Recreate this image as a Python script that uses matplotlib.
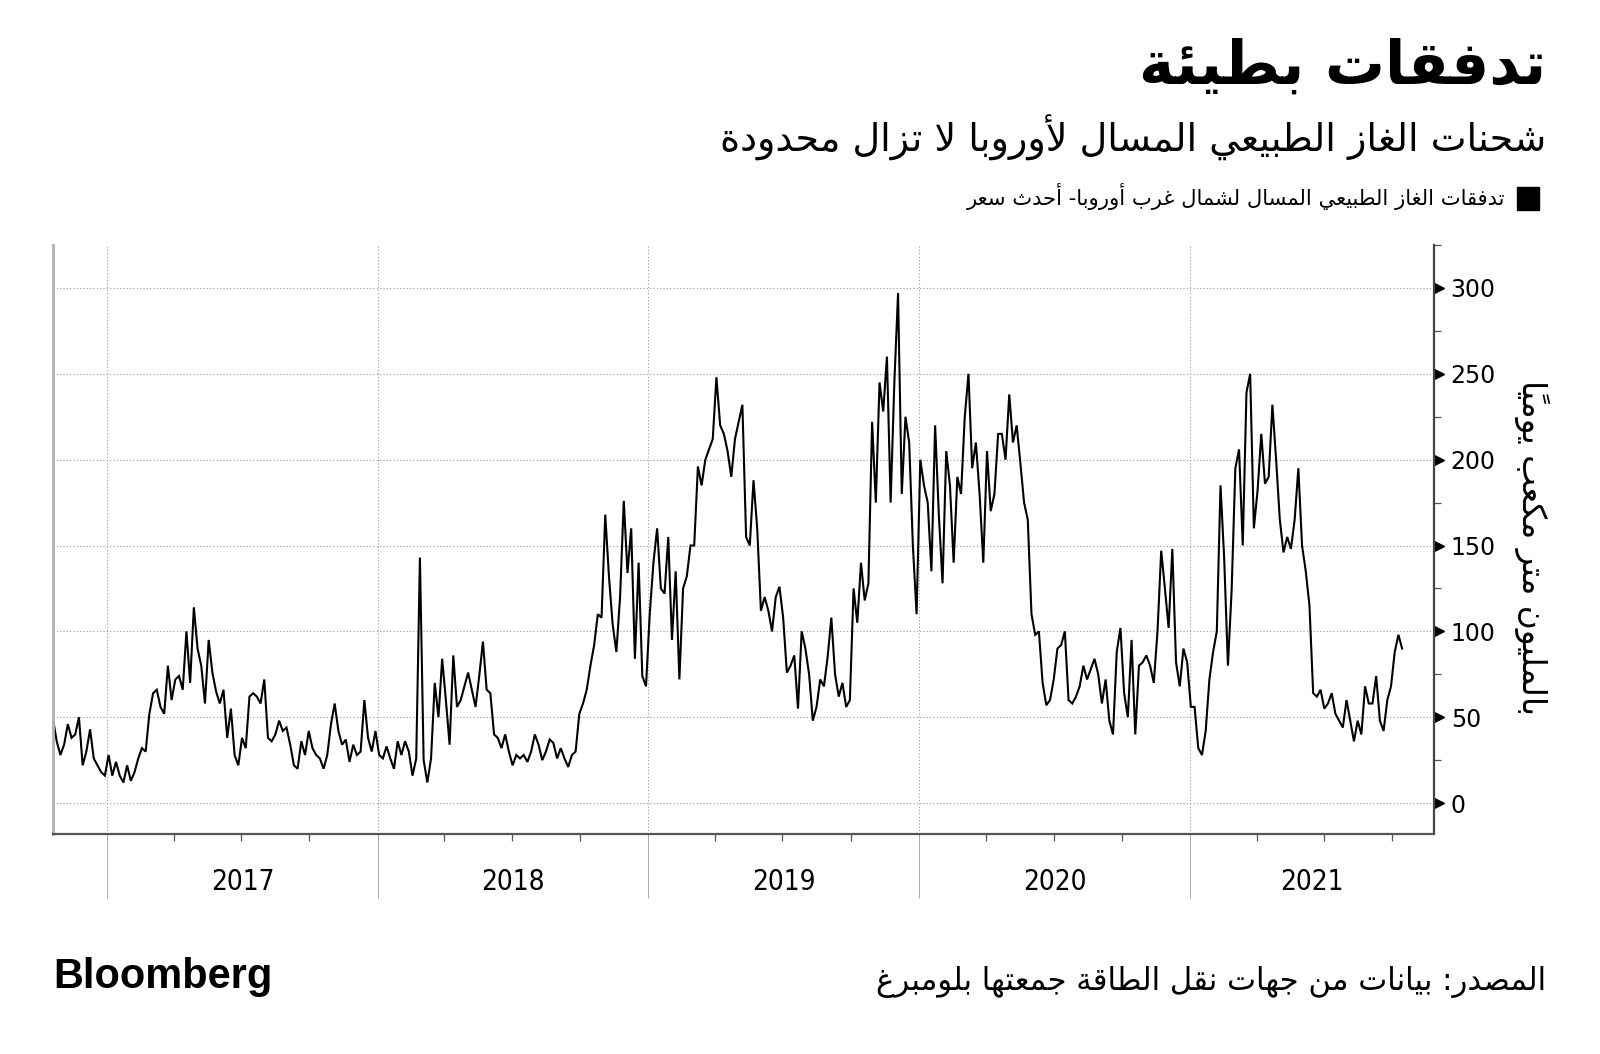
import numpy as np
import matplotlib
matplotlib.use('Agg')
import matplotlib.pyplot as plt
import matplotlib.dates as mdates
import matplotlib.transforms as mtransforms
from matplotlib import font_manager
from matplotlib.patches import Rectangle

# LNG flows to north-west Europe, million cubic metres per day, one value every 5 days
start = np.datetime64('2016-10-20')
step_days = 5
flow = [
    49, 36, 28, 34, 46, 38, 40, 50, 22, 30,
    43, 26, 22, 18, 16, 28, 16, 24, 16, 12,
    22, 13, 18, 26, 32, 30, 52, 64, 66, 56,
    52, 80, 60, 72, 74, 66, 100, 70, 114, 90,
    80, 58, 95,
    76, 65, 58, 66, 38, 55, 28, 22, 38, 32,
    62, 64, 62, 58, 72, 38, 36, 40, 48, 42,
    44, 34, 22, 20, 36, 28, 42, 32, 28, 26,
    20, 28, 46, 58, 42, 34, 37, 24, 34, 28, 30, 60,
    38, 30, 42, 28, 26, 33, 26, 20, 36, 28,
    36, 30, 16, 26, 143, 25, 12, 26, 70, 50,
    84, 60, 34, 86, 56, 60, 68, 76, 66, 56,
    74, 94, 66, 64, 40, 38, 32, 40, 30, 22, 28,
    26, 28, 24, 30, 40, 34, 25, 30, 37, 35,
    26, 32, 26, 21, 28, 30, 52, 58, 66, 80,
    92, 110, 108, 168, 132, 104, 88, 120, 176, 134,
    160, 84, 140, 74, 68, 110, 140, 160, 125, 122,
    155, 95, 135,
    72, 125, 132, 150, 150, 196, 185, 200, 206, 212,
    248, 220, 215, 205, 190, 212, 222, 232, 155, 150,
    188, 160, 112, 120, 112, 100, 120, 126, 108, 76,
    80, 86, 55, 100, 90, 75, 48, 56, 72, 68,
    85,
    108, 75, 62, 70, 56, 60, 125, 105, 140, 118,
    128, 222, 175, 245, 228, 260, 175, 245, 297, 180,
    225, 210, 150, 110, 200, 185, 175, 135, 220, 168,
    128, 205, 185, 140, 190, 180, 225, 250, 195, 210, 180, 140,
    205, 170, 180, 215, 215, 200, 238, 210, 220, 198,
    175, 165, 110, 98, 100, 70, 57, 60, 72, 90,
    92, 100, 60, 58, 62, 68, 80, 72, 78, 84,
    75, 58, 72, 48, 40, 88, 102, 64, 50, 95,
    40, 80,
    82, 86, 80, 70, 100, 147, 125, 102, 148, 82,
    68, 90, 82, 56, 56, 32, 28, 42, 72, 88,
    100, 185, 142, 80, 124, 195, 206, 150, 239, 250,
    160, 182, 215, 186, 190, 232, 200, 165, 146, 155,
    148,
    165, 195, 150, 135, 115, 64, 62, 66, 55, 58,
    64, 52, 48, 44, 60, 48, 36, 48, 40, 68,
    58, 58, 74, 48, 42, 60, 68, 88, 98, 90,
]
dates = start + np.arange(len(flow)) * np.timedelta64(step_days, 'D')

years = [2017, 2018, 2019, 2020, 2021]
yticks = [0, 50, 100, 150, 200, 250, 300]
x_end = np.datetime64('2021-11-26')

title = 'تدفقات بطيئة'
subtitle = 'شحنات الغاز الطبيعي المسال لأوروبا لا تزال محدودة'
legend_label = 'تدفقات الغاز الطبيعي المسال لشمال غرب أوروبا- أحدث سعر'
y_label = 'بالمليون متر مكعب يومياً'
source = 'المصدر: بيانات من جهات نقل الطاقة جمعتها بلومبرغ'


def ar(text):
    # minimal Arabic shaping: contextual forms + reverse for left-to-right drawing
    cps = list(range(0x621, 0x63B)) + list(range(0x641, 0x64B))
    nf = [1, 2, 2, 2, 2, 4, 2, 4, 2, 4, 4, 4, 4, 4, 2, 2, 2, 2, 4, 4,
          4, 4, 4, 4, 4, 4, 4, 4, 4, 4, 4, 4, 4, 2, 2, 4]
    forms = {}
    base = 0xFE80
    for cp, n in zip(cps, nf):
        f = [base + k for k in range(n)]
        base += n
        if n == 1:
            f = f * 4
        elif n == 2:
            f = f + f
        forms[chr(cp)] = (f, n)
    lamalef = {'\u0622': 0xFEF5, '\u0623': 0xFEF7, '\u0625': 0xFEF9, '\u0627': 0xFEFB}
    marks = set(chr(c) for c in range(0x64B, 0x653))
    clusters = []
    for ch in text:
        if ch in marks and clusters:
            clusters[-1][1].append(ch)
        else:
            clusters.append([ch, []])
    merged = []
    i = 0
    while i < len(clusters):
        c = clusters[i]
        if c[0] == '\u0644' and i + 1 < len(clusters) and clusters[i + 1][0] in lamalef:
            merged.append(['LA' + clusters[i + 1][0], c[1] + clusters[i + 1][1]])
            i += 2
        else:
            merged.append(c)
            i += 1

    def joins_next(b):
        if b.startswith('LA'):
            return False
        return b in forms and forms[b][1] == 4

    def joins_prev(b):
        if b.startswith('LA'):
            return True
        return b in forms and forms[b][1] >= 2

    out = []
    for k, (b, mk) in enumerate(merged):
        prev = merged[k - 1][0] if k > 0 else None
        nxt = merged[k + 1][0] if k + 1 < len(merged) else None
        jp = prev is not None and joins_next(prev) and joins_prev(b)
        jn = nxt is not None and joins_next(b) and joins_prev(nxt)
        if b.startswith('LA'):
            g = chr(lamalef[b[2]] + (1 if jp else 0))
        elif b in forms:
            g = chr(forms[b][0][(1 if jp else 0) + (2 if jn else 0)])
        else:
            g = b
        out.append(g + ''.join(mk))
    return ''.join(reversed(out))


W, H = 1600, 1054
fig = plt.figure(figsize=(W / 100, H / 100), dpi=100)
ax = fig.add_axes([53 / W, 1 - 834 / H, 1381 / W, 589 / H])

ax.plot(dates, flow, color='black', lw=1.5, solid_joinstyle='miter')
ax.set_xlim(start, x_end)
ax.set_ylim(-18, 325)

# y axis on the right
ax.yaxis.tick_right()
ax.set_yticks(yticks)
ax.set_yticks(np.arange(25, 326, 50), minor=True)
ax.tick_params(axis='y', which='major', length=0, pad=12, labelsize=17, labelcolor='black')
ax.tick_params(axis='y', which='minor', length=5, width=0.9, color='#555555')
tri = mtransforms.offset_copy(ax.get_yaxis_transform(), fig=fig, x=5, y=0, units='dots')
ax.plot([1] * len(yticks), yticks, ls='none', marker='>', ms=7, color='black',
        transform=tri, clip_on=False)

# x axis: year separators and quarter ticks
ax.set_xticks([mdates.date2num(np.datetime64(f'{y}-01-01')) for y in years])
ax.xaxis.set_minor_locator(mdates.MonthLocator(bymonth=(4, 7, 10)))
ax.tick_params(axis='x', which='major', length=46, width=0.7, color='#aaaaaa', labelbottom=False)
ax.tick_params(axis='x', which='minor', length=5, width=0.9, color='#555555')

ax.grid(axis='both', which='major', ls=(0, (1, 2)), color='#999999', lw=0.8)

ax.spines['top'].set_visible(False)
ax.spines['left'].set_color('#b0b0b0')
ax.spines['left'].set_linewidth(2)
ax.spines['bottom'].set_color('#555555')
ax.spines['bottom'].set_linewidth(1.6)
ax.spines['right'].set_color('#444444')
ax.spines['right'].set_linewidth(1.6)

names = {f.name for f in font_manager.fontManager.ttflist}
if 'Liberation Sans Narrow' in names:
    year_font, year_size, year_stretch = ['Liberation Sans Narrow'], 23, 'normal'
else:
    year_font, year_size, year_stretch = ['DejaVu Sans'], 20, 'condensed'
xmax = mdates.date2num(x_end)
for y in years:
    a = mdates.date2num(np.datetime64(f'{y}-01-01'))
    b = min(mdates.date2num(np.datetime64(f'{y + 1}-01-01')), xmax)
    ax.text((a + b) / 2, -0.082, str(y), transform=ax.get_xaxis_transform(),
            ha='center', va='center', fontsize=year_size, family=year_font,
            fontstretch=year_stretch)

# texts
t_title = fig.text(1546 / W, 1 - 67 / H, ar(title), ha='right', va='center',
                   fontsize=40, fontweight='bold', family=['DejaVu Sans'])
t_sub = fig.text(1546 / W, 1 - 138 / H, ar(subtitle), ha='right', va='center',
                 fontsize=26, family=['DejaVu Sans'])
t_leg = fig.text(1505 / W, 1 - 197 / H, ar(legend_label), ha='right', va='center',
                 fontsize=14, family=['DejaVu Sans'])
fig.patches.append(Rectangle((1517 / W, 1 - 210 / H), 22 / W, 23 / H,
                             transform=fig.transFigure, color='black'))
t_ylab = fig.text(1532 / W, 1 - 547 / H, ar(y_label), ha='center', va='center',
                  rotation=270, fontsize=18, family=['DejaVu Sans'])
t_src = fig.text(1546 / W, 1 - 982 / H, ar(source), ha='right', va='center',
                 fontsize=18, family=['DejaVu Sans'])
t_bb = fig.text(53 / W, 1 - 977 / H, 'Bloomberg', ha='left', va='center',
                fontsize=28, fontweight='bold', family=['Liberation Sans', 'DejaVu Sans'])


def fit(t, target):
    r = fig.canvas.get_renderer()
    bb = t.get_window_extent(renderer=r)
    w = bb.height if t.get_rotation() in (90, 270) else bb.width
    t.set_fontsize(t.get_fontsize() * target / w)


fig.canvas.draw()
fit(t_title, 408)
fit(t_sub, 826)
fit(t_leg, 546)
fit(t_ylab, 334)
fit(t_src, 668)
fit(t_bb, 219)

fig.savefig('out.png', dpi=100, facecolor='white')
